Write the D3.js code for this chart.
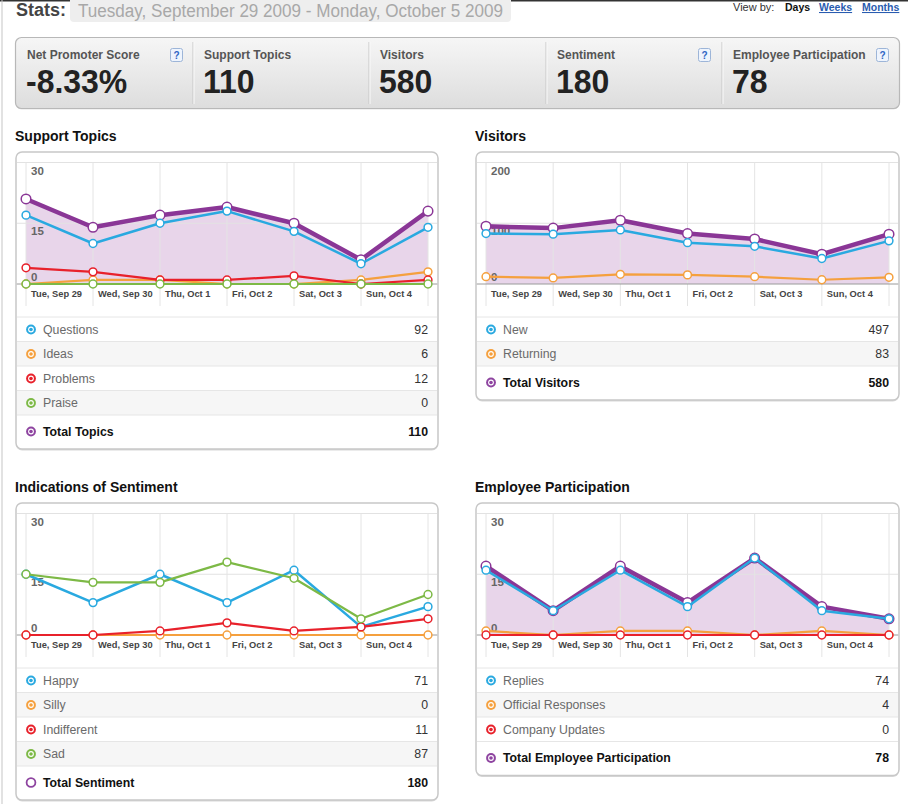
<!DOCTYPE html>
<html><head><meta charset="utf-8">
<script src="https://cdn.jsdelivr.net/npm/d3@7/dist/d3.min.js"></script>
<style>
html,body{margin:0;padding:0;background:#fff;}
svg{display:block;font-family:"Liberation Sans",Arial,Helvetica,sans-serif;}
</style></head><body>
<svg id="c" width="908" height="804"></svg>
<script>
// ---------- DATA ----------
const days = ["Tue, Sep 29","Wed, Sep 30","Thu, Oct 1","Fri, Oct 2","Sat, Oct 3","Sun, Oct 4","Mon, Oct 5"];
const dateRange = "Tuesday, September 29 2009 - Monday, October 5 2009";

const statLabels = ["Net Promoter Score","Support Topics","Visitors","Sentiment","Employee Participation"];
const statValues = ["-8.33%","110","580","180","78"];
const statHelp = [true,false,false,true,true];

const topicsQuestions = [17,10,15,18,13,5,14];
const topicsIdeas     = [0,1,1,0,0,1,3];
const topicsProblems  = [4,3,1,1,2,0,1];
const topicsPraise    = [0,0,0,0,0,0,0];
const topicsTotal     = [21,14,17,19,15,6,18];

const visitorsNew       = [83,82,89,68,62,42,71];
const visitorsReturning = [12,10,16,15,12,7,11];
const visitorsTotal     = [95,92,105,83,74,49,82];

const sentimentHappy       = [15,8,15,8,16,2,7];
const sentimentSilly       = [0,0,0,0,0,0,0];
const sentimentIndifferent = [0,0,1,3,1,2,4];
const sentimentSad         = [15,13,13,18,14,4,10];

const empReplies  = [16,6,16,7,19,6,4];
const empOfficial = [1,0,1,1,0,1,0];
const empUpdates  = [0,0,0,0,0,0,0];
const empTotal    = [17,6,17,8,19,7,4];

const panelTitles = ["Support Topics","Visitors","Indications of Sentiment","Employee Participation"];
const totalLabels = ["Total Topics","Total Visitors","Total Sentiment","Total Employee Participation"];
const totalValues = [110,580,180,78];
const yTicksSmall = [0,15,30];
const yTicksVisitors = [0,100,200];

// ---------- STYLE ----------
const C = {blue:"#29a9e0", orange:"#f5a03e", red:"#e8212b", green:"#7db946", purple:"#8a3696", area:"#e8d5ea"};

const svg = d3.select("#c");
const defs = svg.append("defs");
const gr = defs.append("linearGradient").attr("id","statsGrad").attr("x1",0).attr("y1",0).attr("x2",0).attr("y2",1);
gr.append("stop").attr("offset","0%").attr("stop-color","#f6f6f6");
gr.append("stop").attr("offset","100%").attr("stop-color","#dddddd");

// page borders
svg.append("rect").attr("x",0).attr("y",0).attr("width",908).attr("height",1.5).attr("fill","#333");
svg.append("rect").attr("x",1.5).attr("y",0).attr("width",1).attr("height",804).attr("fill","#c6c6c6");

// ---------- HEADER ----------
svg.append("text").attr("x",16).attr("y",16).attr("font-size",18).attr("font-weight","bold").attr("fill","#444").text("Stats:");
svg.append("rect").attr("x",70).attr("y",-6).attr("width",441).attr("height",28).attr("rx",4).attr("fill","#eeeeee");
svg.append("text").attr("x",78).attr("y",17).attr("font-size",18).attr("fill","#a8a8a8")
  .attr("textLength",425).attr("lengthAdjust","spacingAndGlyphs").text(dateRange);

svg.append("text").attr("x",733).attr("y",11).attr("font-size",11).attr("fill","#333").text("View by:");
svg.append("text").attr("x",785).attr("y",11).attr("font-size",10.5).attr("font-weight","bold").attr("fill","#111").text("Days");
[["Weeks",819],["Months",862]].forEach(([t,x])=>{
  svg.append("text").attr("x",x).attr("y",11).attr("font-size",10.5).attr("font-weight","bold").attr("fill","#2a5cb0")
    .style("text-decoration","underline").text(t);
});

// ---------- STATS BOX ----------
svg.append("rect").attr("x",15.5).attr("y",38.5).attr("width",884).attr("height",71).attr("rx",6).attr("fill","#e4e4e4");
svg.append("rect").attr("x",15.5).attr("y",37.5).attr("width",884).attr("height",71).attr("rx",6)
  .attr("fill","url(#statsGrad)").attr("stroke","#b8b8b8").attr("stroke-width",1.2);
const statX = [27,204,380,557,733];
const divX = [193,369,546,722];
divX.forEach(x=>{
  svg.append("line").attr("x1",x).attr("x2",x).attr("y1",42).attr("y2",104).attr("stroke","#c6c6c6");
  svg.append("line").attr("x1",x+1).attr("x2",x+1).attr("y1",42).attr("y2",104).attr("stroke","#fafafa");
});
const helpX = [170,null,null,698,876];
statLabels.forEach((l,i)=>{
  svg.append("text").attr("x",statX[i]).attr("y",59).attr("font-size",12).attr("font-weight","bold").attr("fill","#555").text(l);
  const v = svg.append("text").attr("x",statX[i]-1).attr("y",93).attr("font-size",34).attr("font-weight","bold").attr("fill","#222").text(statValues[i]);
  const w = v.node().getComputedTextLength();
  v.attr("textLength",w*0.94).attr("lengthAdjust","spacingAndGlyphs");
  if(statHelp[i]){
    svg.append("rect").attr("x",helpX[i]+0.5).attr("y",48.5).attr("width",12).attr("height",13).attr("rx",2)
      .attr("fill","#eef4fd").attr("stroke","#9db5d8");
    svg.append("text").attr("x",helpX[i]+6.5).attr("y",59).attr("text-anchor","middle").attr("font-size",10)
      .attr("font-weight","bold").attr("fill","#2e66c4").text("?");
  }
});

// ---------- PANELS ----------
function legendIcon(g,cx,cy,color,hollow){
  if(hollow){
    g.append("circle").attr("cx",cx).attr("cy",cy).attr("r",4.4).attr("fill","#fff").attr("stroke",color).attr("stroke-width",1.8);
  } else {
    g.append("circle").attr("cx",cx).attr("cy",cy).attr("r",4.9).attr("fill",color);
    g.append("circle").attr("cx",cx).attr("cy",cy).attr("r",2.9).attr("fill","#fff");
    g.append("circle").attr("cx",cx).attr("cy",cy).attr("r",1.8).attr("fill",color);
  }
}

function panel(p){
  const {x0,x1,top,ymax,yTicks,series,total,title,titleIdx} = p;
  const g = svg.append("g");
  const plotTop = top+10.5, zero = top+132;
  const xs = d3.scalePoint().domain(days).range([x0+10,x1-10]);
  const ys = d3.scaleLinear().domain([0,ymax]).range([zero,plotTop]);
  const nRows = series.length;
  const sep0 = zero+33, rowH = 24.5;
  const bottom = sep0+nRows*rowH+34;

  svg.append("text").attr("x",x0-1).attr("y",top-11).attr("font-size",14).attr("font-weight","bold").attr("fill","#111").text(title);

  g.append("rect").attr("x",x0).attr("y",top+1.5).attr("width",x1-x0).attr("height",bottom-top).attr("rx",6).attr("fill","#d8d8d8");
  g.append("rect").attr("x",x0).attr("y",top).attr("width",x1-x0).attr("height",bottom-top).attr("rx",6)
    .attr("fill","#fff").attr("stroke","#c8c8c8").attr("stroke-width",1.5);

  if(total && total.area){
    g.append("path").datum(total.values)
      .attr("d",d3.area().x((d,i)=>xs(days[i])).y0(zero).y1(d=>ys(d)))
      .attr("fill",C.area);
  }
  yTicks.filter(v=>v>0).forEach(v=>{
    g.append("line").attr("x1",x0+1).attr("x2",x1-1).attr("y1",ys(v)).attr("y2",ys(v)).attr("stroke","#e2e2e2");
  });
  days.forEach(d=>{
    g.append("line").attr("x1",xs(d)).attr("x2",xs(d)).attr("y1",plotTop).attr("y2",zero+22).attr("stroke","#e4e4e4");
  });
  yTicks.forEach(v=>{
    g.append("text").attr("x",x0+15).attr("y",v>0?ys(v)+12:zero-3.5).attr("font-size",11.5).attr("font-weight","bold")
      .attr("fill","#666").text(v);
  });
  g.append("line").attr("x1",x0+0.75).attr("x2",x1-0.75).attr("y1",zero).attr("y2",zero).attr("stroke","#9a9a9a");
  days.slice(0,6).forEach(d=>{
    g.append("text").attr("x",xs(d)+5).attr("y",zero+12.5).attr("font-size",9.3).attr("font-weight","bold").attr("fill","#444").text(d);
  });

  const line = d3.line().x((d,i)=>xs(days[i])).y(d=>ys(d));
  function drawSeries(values,color,width,r){
    g.append("path").datum(values).attr("d",line).attr("fill","none").attr("stroke",color)
      .attr("stroke-width",width).attr("stroke-linejoin","round");
    g.selectAll(null).data(values).enter().append("circle")
      .attr("cx",(d,i)=>xs(days[i])).attr("cy",d=>ys(d)).attr("r",r)
      .attr("fill","#fff").attr("stroke",color).attr("stroke-width",1.5);
  }
  if(total && total.line) drawSeries(total.values,C.purple,4.5,4.8);
  series.forEach(s=>drawSeries(s.values,s.color,s.width||2.2,3.9));

  series.forEach((s,i)=>{
    const ry = sep0+i*rowH;
    if(i%2===1) g.append("rect").attr("x",x0+1).attr("y",ry).attr("width",x1-x0-2).attr("height",rowH).attr("fill","#f6f6f6");
    g.append("line").attr("x1",x0+1).attr("x2",x1-1).attr("y1",ry).attr("y2",ry).attr("stroke","#e6e6e6");
    legendIcon(g,x0+15,ry+12.5,s.color,false);
    g.append("text").attr("x",x0+27).attr("y",ry+16.8).attr("font-size",12.3).attr("fill","#6a6a6a").text(s.name);
    g.append("text").attr("x",x1-10).attr("y",ry+16.8).attr("font-size",12.3).attr("fill","#333").attr("text-anchor","end")
      .text(d3.sum(s.values));
  });
  const ty = sep0+nRows*rowH;
  g.append("line").attr("x1",x0+1).attr("x2",x1-1).attr("y1",ty).attr("y2",ty).attr("stroke","#e6e6e6");
  legendIcon(g,x0+15,ty+16.5,"#8e44a0",!(total && total.line));
  g.append("text").attr("x",x0+27).attr("y",ty+20.8).attr("font-size",12.3).attr("font-weight","bold").attr("fill","#111").text(totalLabels[titleIdx]);
  g.append("text").attr("x",x1-10).attr("y",ty+20.8).attr("font-size",12.3).attr("font-weight","bold").attr("fill","#111")
    .attr("text-anchor","end").text(totalValues[titleIdx]);
}

panel({x0:16,x1:438,top:152,ymax:30,yTicks:yTicksSmall,title:panelTitles[0],titleIdx:0,
  total:{values:topicsTotal,area:true,line:true},
  series:[
    {name:"Questions",values:topicsQuestions,color:C.blue,width:2.5},
    {name:"Ideas",values:topicsIdeas,color:C.orange,width:2.2},
    {name:"Problems",values:topicsProblems,color:C.red,width:2.2},
    {name:"Praise",values:topicsPraise,color:C.green,width:2.2}
  ]});

panel({x0:476,x1:899,top:152,ymax:200,yTicks:yTicksVisitors,title:panelTitles[1],titleIdx:1,
  total:{values:visitorsTotal,area:true,line:true},
  series:[
    {name:"New",values:visitorsNew,color:C.blue,width:2.5},
    {name:"Returning",values:visitorsReturning,color:C.orange,width:2.2}
  ]});

panel({x0:16,x1:438,top:503,ymax:30,yTicks:yTicksSmall,title:panelTitles[2],titleIdx:2,
  total:null,
  series:[
    {name:"Happy",values:sentimentHappy,color:C.blue,width:2.5},
    {name:"Silly",values:sentimentSilly,color:C.orange,width:2.2},
    {name:"Indifferent",values:sentimentIndifferent,color:C.red,width:2.2},
    {name:"Sad",values:sentimentSad,color:C.green,width:2.2}
  ]});

panel({x0:476,x1:899,top:503,ymax:30,yTicks:yTicksSmall,title:panelTitles[3],titleIdx:3,
  total:{values:empTotal,area:true,line:true},
  series:[
    {name:"Replies",values:empReplies,color:C.blue,width:2.5},
    {name:"Official Responses",values:empOfficial,color:C.orange,width:2.2},
    {name:"Company Updates",values:empUpdates,color:C.red,width:2.2}
  ]});
</script>
</body></html>
